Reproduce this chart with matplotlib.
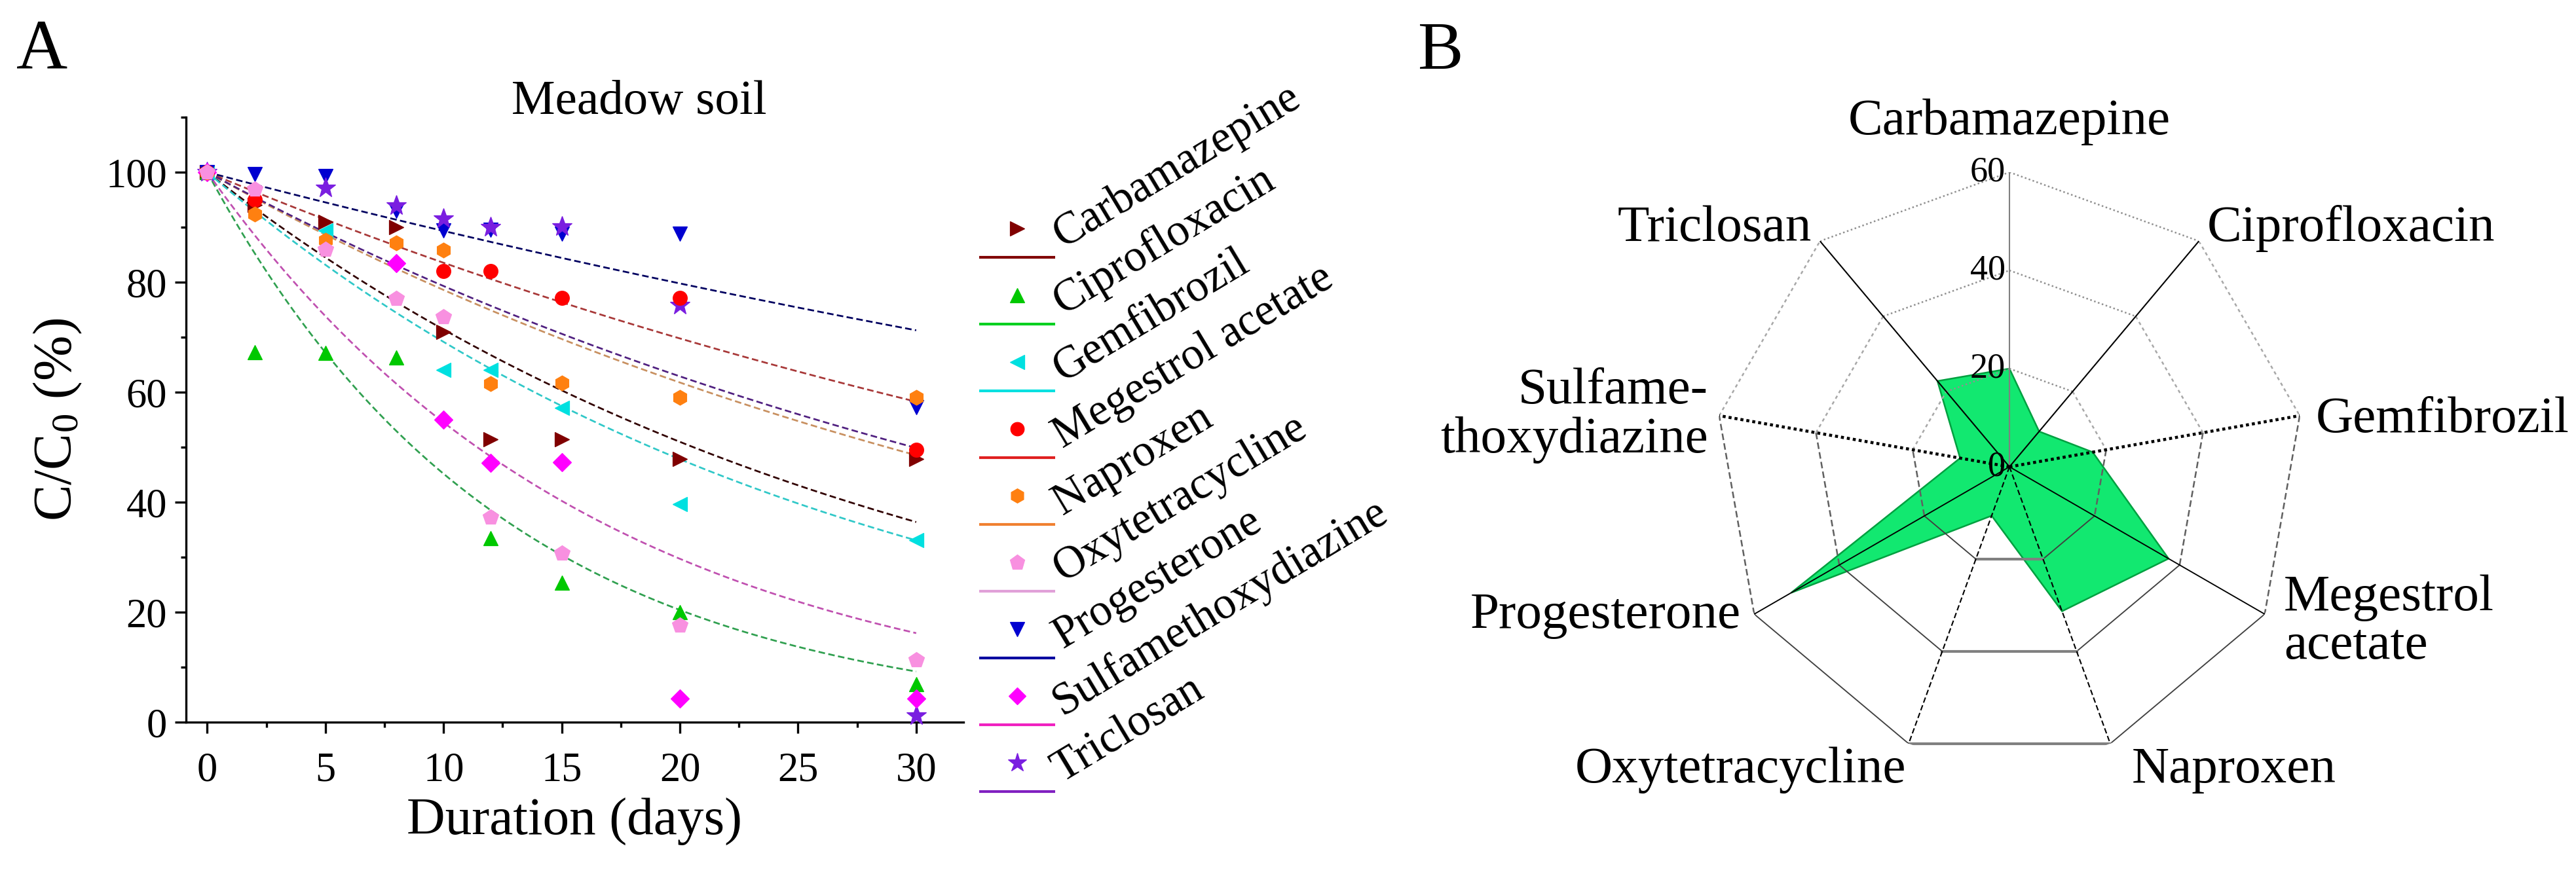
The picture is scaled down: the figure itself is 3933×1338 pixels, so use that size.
import numpy as np
import matplotlib
matplotlib.use("Agg")
import matplotlib.pyplot as plt
from matplotlib.ticker import MultipleLocator

plt.rcParams['font.family'] = ['Liberation Serif', 'DejaVu Serif']
plt.rcParams['mathtext.fontset'] = 'custom'
plt.rcParams['mathtext.rm'] = 'Liberation Serif'
plt.rcParams['mathtext.it'] = 'Liberation Serif:italic'

W, H = 3933, 1338
DPI = 300

# ---- panel A data: C/C0 (%) vs. time ----
days = [0, 2, 5, 8, 10, 12, 15, 20, 30]
nan = np.nan
carbamazepine = [100, 94, 91, 90, 71, 51.4, 51.4, 47.8, 47.8]
ciprofloxacin = [100, 67.3, 67.1, 66.3, nan, 33.4, 25.4, 20.0, 6.9]
gemfibrozil = [100, nan, 89.4, nan, 64.1, 64.1, 57.2, 39.7, 33.1]
megestrol = [100, 95, nan, nan, 82, 82, 77.2, 77.2, 49.5]
naproxen = [100, 92.4, 87.6, 87.2, 85.8, 61.5, 61.7, 59.1, 59.1]
oxytetracycline = [100, 96.9, 86, 77, 73.7, 37.3, 30.7, 17.6, 11.3]
progesterone = [100, 99.7, 99.3, 93, 89.4, 89.5, 88.8, 88.8, 57.3]
sulfamethoxydiazine = [100, nan, nan, 83.4, 55, 47.2, 47.3, 4.3, 4.3]
triclosan = [100, nan, 97.1, 93.9, 91.5, 90, 90.1, 75.8, 1.2]

compounds = ["Carbamazepine", "Ciprofloxacin", "Gemfibrozil", "Megestrol acetate",
             "Naproxen", "Oxytetracycline", "Progesterone", "Sulfamethoxydiazine",
             "Triclosan"]
series = [carbamazepine, ciprofloxacin, gemfibrozil, megestrol, naproxen,
          oxytetracycline, progesterone, sulfamethoxydiazine, triclosan]
# first-order rate constants of the fitted curves (1/day); None = no curve drawn
rate_k = [0.0337, 0.0795, 0.0369, 0.0180, 0.0241, None, 0.0113, 0.0607, 0.0232]

markers = ['>', '^', '<', 'o', 'h', 'p', 'v', 'D', '*']
mcolors = ['#800000', '#00c800', '#00e0e0', '#ff0000', '#ff8010', '#f890e0',
           '#0000d0', '#ff00ff', '#7a1ee0']
lcolors = ['#800000', '#00d020', '#00e0e0', '#e02020', '#f08030', '#e0a0d8',
           '#0000a0', '#f020c0', '#8020c0']
fcolors = ['#300000', '#30a050', '#30c8c8', '#a83838', '#c89060', '#e0a0d8',
           '#000060', '#c050b0', '#502080']
msizes = [5.5, 5.5, 5.5, 5.2, 5.5, 6.0, 5.5, 4.8, 7.5]
draw_order = [0, 1, 2, 6, 8, 7, 3, 4, 5]

# ---- panel B data: radar ----
radar_labels = ["Carbamazepine", "Ciprofloxacin", "Gemfibrozil", "Megestrol\nacetate",
                "Naproxen", "Oxytetracycline", "Progesterone", "Sulfame-\nthoxydiazine",
                "Triclosan"]
radar_values = [20, 9.4, 17.2, 37.4, 31.3, 10.6, 51.3, 10.2, 22.8]
radar_ticks = [0, 20, 40, 60]


def fx(px):
    return px / W


def fy(py):
    return 1 - py / H


fig = plt.figure(figsize=(W / DPI, H / DPI), dpi=DPI)

# ================= panel A =================
ax = fig.add_axes([fx(284), fy(1103), (1471 - 284) / W, (1103 - 179) / H])
t = np.linspace(0, 30, 300)
for i, k in enumerate(rate_k):
    if k is None:
        continue
    ax.plot(t, 100 * np.exp(-k * t), color=fcolors[i], lw=0.65,
            dashes=(3.7, 1.9), zorder=2)
for i in draw_order:
    ax.plot(days, series[i], ls='none', marker=markers[i], ms=msizes[i],
            mfc=mcolors[i], mec=mcolors[i], mew=0.3, clip_on=False, zorder=3)

ax.set_xlim(-0.9, 32)
ax.set_ylim(0, 110)
ax.xaxis.set_major_locator(MultipleLocator(5))
ax.xaxis.set_minor_locator(MultipleLocator(2.5))
ax.yaxis.set_major_locator(MultipleLocator(20))
ax.yaxis.set_minor_locator(MultipleLocator(10))
ax.set_yticks([0, 20, 40, 60, 80, 100])
for s in ['top', 'right']:
    ax.spines[s].set_visible(False)
for s in ['left', 'bottom']:
    ax.spines[s].set_linewidth(0.8)
ax.tick_params(which='major', direction='out', length=4, width=0.8, labelsize=15)
ax.tick_params(which='minor', direction='out', length=2, width=0.8)
ax.tick_params(axis='x', pad=7)
ax.tick_params(axis='y', pad=3)
ax.set_xlabel('Duration (days)', fontsize=19.5, labelpad=3)
ax.set_ylabel(r'C/C$_\mathrm{0}$ (%)', fontsize=20, labelpad=8)

fig.text(fx(976), fy(174), 'Meadow soil', fontsize=18, ha='center', va='baseline')
fig.text(fx(25), fy(105), 'A', fontsize=26, va='baseline')
fig.text(fx(2165), fy(105), 'B', fontsize=25, va='baseline')

# legend (markers over lines, rotated labels)
step = 102
lax = fig.add_axes([fx(1480), fy(298 + 9.5 * step), 300 / W, 9.5 * step / H])
lax.set_xlim(0, 1)
lax.set_ylim(9.0, -0.5)
lax.axis('off')
for i, name in enumerate(compounds):
    lax.plot([0.243], [i], ls='none', marker=markers[i], ms=msizes[i] * 0.95,
             mfc=mcolors[i], mec=mcolors[i], mew=0.3, clip_on=False)
    lax.plot([0.05, 0.437], [i + 0.43, i + 0.43], color=lcolors[i], lw=1.0,
             solid_capstyle='butt', clip_on=False)
    lax.text(0.473, i + 0.3, name, rotation=31, rotation_mode='anchor',
             ha='left', va='baseline', fontsize=16.5)

# ================= panel B =================
R = 450
pax = fig.add_axes([fx(3068 - R), fy(713 + R), 2 * R / W, 2 * R / H], projection='polar')
pax.set_theta_zero_location('N')
pax.set_theta_direction(-1)
pax.set_ylim(0, 60)
pax.grid(False)
pax.spines['polar'].set_visible(False)
pax.set_xticks([])
pax.set_yticks([])
pax.patch.set_alpha(0)

n = len(radar_labels)
theta = np.deg2rad(np.arange(n) * 360.0 / n)

pax.fill(np.append(theta, theta[0]), np.append(radar_values, radar_values[0]),
         facecolor='#12e870', edgecolor='#00a040', lw=0.6, zorder=1)

edge_styles = [
    dict(color='#909090', lw=0.6, ls=(0, (1, 1.5))),
    dict(color='#a8a8a8', lw=0.6, ls=(0, (2, 2))),
    dict(color='#606060', lw=0.6, ls=(0, (4, 2))),
    dict(color='#404040', lw=0.45, ls='-'),
    dict(color='#808080', lw=1.0, ls='-'),
    dict(color='#404040', lw=0.45, ls='-'),
    dict(color='#606060', lw=0.6, ls=(0, (4, 2))),
    dict(color='#a8a8a8', lw=0.6, ls=(0, (2, 2))),
    dict(color='#909090', lw=0.6, ls=(0, (1, 1.5))),
]
spoke_styles = [
    dict(color='#808080', lw=0.5, ls='-'),
    dict(color='black', lw=0.5, ls='-'),
    dict(color='black', lw=1.1, ls=(0, (1, 1))),
    dict(color='black', lw=0.45, ls='-'),
    dict(color='black', lw=0.5, ls=(0, (4, 2))),
    dict(color='black', lw=0.5, ls=(0, (4, 2))),
    dict(color='black', lw=0.45, ls='-'),
    dict(color='black', lw=1.1, ls=(0, (1, 1))),
    dict(color='black', lw=0.5, ls='-'),
]
for r in radar_ticks[1:]:
    for i in range(n):
        j = (i + 1) % n
        pax.plot([theta[i], theta[j]], [r, r], zorder=2, **edge_styles[i])
for i in range(n):
    pax.plot([theta[i], theta[i]], [0, radar_ticks[-1]], zorder=2, **spoke_styles[i])

for r in radar_ticks:
    pax.annotate(str(r), xy=(0, r), xytext=(-1.5, 0), textcoords='offset points',
                 ha='right', va='center', fontsize=13, zorder=3)

# label placement: (ha, va, offset in points)
label_pos = [
    ('center', 'baseline', (0, 14)),
    ('left', 'baseline', (3, 0)),
    ('left', 'baseline', (6, -6)),
    ('left', 'center', (7, -3)),
    ('left', 'top', (8, -1)),
    ('right', 'top', (-1, -1)),
    ('right', 'baseline', (-5, -5)),
    ('right', 'center', (-4, 0)),
    ('right', 'baseline', (-3, 0)),
]
for i, lab in enumerate(radar_labels):
    ha, va, off = label_pos[i]
    pax.annotate(lab, xy=(theta[i], radar_ticks[-1]), xytext=off,
                 textcoords='offset points', ha=ha, va=va, fontsize=19,
                 multialignment='left' if ha == 'left' else 'right',
                 linespacing=1.05, annotation_clip=False)

fig.savefig('out.png', dpi=DPI)
